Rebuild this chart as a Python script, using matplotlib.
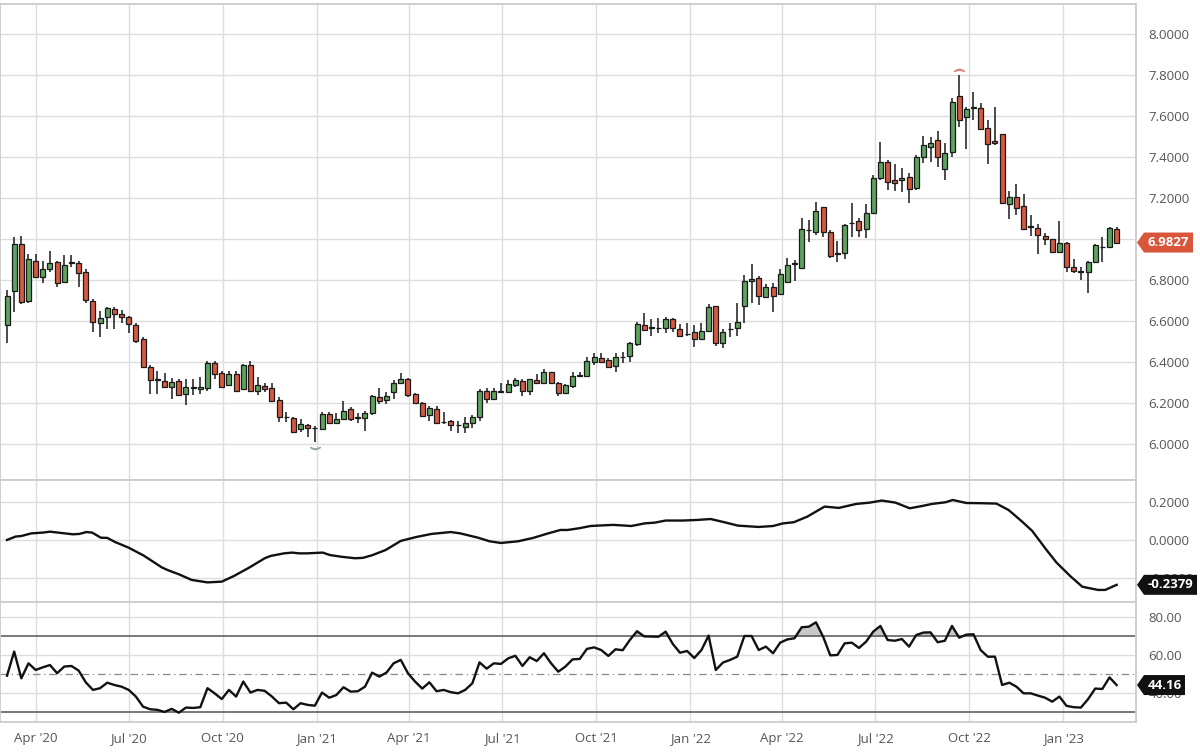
import numpy as np
import matplotlib
matplotlib.use("Agg")
import matplotlib.pyplot as plt
from matplotlib.patches import Polygon
from matplotlib.transforms import IdentityTransform
from matplotlib.ticker import FormatStrFormatter

plt.rcParams['font.family'] = ['Open Sans', 'DejaVu Sans']

# weekly candles, first week starting 2020-03-04
START = np.datetime64('2020-03-04')

opens = [6.582, 6.747, 6.976, 6.698, 6.893, 6.814, 6.856, 6.887, 6.791, 6.882,
         6.885, 6.838, 6.698, 6.593, 6.622, 6.659, 6.635, 6.619, 6.583, 6.513,
         6.379, 6.318, 6.310, 6.280, 6.310, 6.247, 6.277, 6.272, 6.273, 6.395,
         6.347, 6.290, 6.343, 6.270, 6.385, 6.260, 6.286, 6.277, 6.217, 6.135,
         6.128, 6.074, 6.095, 6.080, 6.074, 6.148, 6.103, 6.123, 6.171, 6.132,
         6.128, 6.152, 6.233, 6.217, 6.254, 6.299, 6.319, 6.246, 6.200, 6.144,
         6.171, 6.108, 6.116, 6.096, 6.087, 6.106, 6.132, 6.262, 6.220, 6.258,
         6.254, 6.290, 6.309, 6.260, 6.314, 6.298, 6.351, 6.298, 6.249, 6.286,
         6.335, 6.333, 6.403, 6.422, 6.411, 6.382, 6.424, 6.432, 6.489, 6.582,
         6.571, 6.566, 6.566, 6.609, 6.562, 6.538, 6.546, 6.512, 6.554, 6.675,
         6.492, 6.560, 6.566, 6.674, 6.796, 6.809, 6.719, 6.768, 6.732, 6.792,
         6.880, 6.860, 7.044, 7.033, 7.154, 7.036, 6.931, 6.933, 7.078, 7.088,
         7.049, 7.128, 7.297, 7.376, 7.287, 7.286, 7.300, 7.247, 7.400, 7.446,
         7.482, 7.341, 7.422, 7.696, 7.592, 7.636, 7.636, 7.539, 7.477, 7.510,
         7.170, 7.203, 7.161, 7.061, 7.052, 7.016, 6.998, 6.938, 6.982, 6.862,
         6.841, 6.838, 6.890, 6.960, 6.960, 7.049]
highs = [6.752, 7.011, 7.015, 6.927, 6.927, 6.893, 6.943, 6.894, 6.924, 6.922,
         6.894, 6.853, 6.710, 6.650, 6.670, 6.668, 6.655, 6.625, 6.593, 6.522,
         6.387, 6.359, 6.350, 6.325, 6.317, 6.320, 6.319, 6.330, 6.406, 6.406,
         6.358, 6.359, 6.356, 6.390, 6.408, 6.330, 6.298, 6.298, 6.233, 6.160,
         6.132, 6.124, 6.100, 6.090, 6.160, 6.160, 6.152, 6.213, 6.181, 6.155,
         6.165, 6.241, 6.273, 6.257, 6.314, 6.347, 6.325, 6.252, 6.208, 6.187,
         6.187, 6.160, 6.120, 6.116, 6.132, 6.144, 6.268, 6.273, 6.273, 6.301,
         6.314, 6.325, 6.317, 6.320, 6.343, 6.367, 6.354, 6.306, 6.292, 6.354,
         6.354, 6.427, 6.444, 6.447, 6.419, 6.444, 6.452, 6.500, 6.596, 6.638,
         6.609, 6.614, 6.619, 6.616, 6.586, 6.590, 6.582, 6.590, 6.684, 6.676,
         6.561, 6.590, 6.690, 6.825, 6.877, 6.820, 6.780, 6.787, 6.853, 6.906,
         6.900, 7.101, 7.092, 7.181, 7.157, 7.044, 6.992, 7.073, 7.174, 7.101,
         7.170, 7.311, 7.472, 7.384, 7.365, 7.344, 7.320, 7.409, 7.501, 7.495,
         7.527, 7.469, 7.685, 7.798, 7.644, 7.717, 7.660, 7.579, 7.644, 7.512,
         7.235, 7.268, 7.219, 7.117, 7.073, 7.031, 7.000, 7.088, 6.984, 6.901,
         6.865, 6.892, 6.976, 7.008, 7.057, 7.060]
lows = [6.494, 6.646, 6.684, 6.690, 6.810, 6.784, 6.841, 6.768, 6.790, 6.865,
        6.768, 6.687, 6.549, 6.522, 6.561, 6.561, 6.590, 6.544, 6.495, 6.372,
        6.246, 6.246, 6.273, 6.220, 6.241, 6.191, 6.241, 6.244, 6.262, 6.320,
        6.278, 6.285, 6.259, 6.268, 6.259, 6.241, 6.257, 6.208, 6.108, 6.111,
        6.057, 6.062, 6.038, 6.014, 6.071, 6.100, 6.100, 6.120, 6.114, 6.103,
        6.067, 6.143, 6.197, 6.196, 6.220, 6.297, 6.233, 6.197, 6.135, 6.116,
        6.103, 6.100, 6.067, 6.057, 6.057, 6.079, 6.116, 6.203, 6.217, 6.250,
        6.250, 6.281, 6.236, 6.241, 6.295, 6.294, 6.294, 6.238, 6.246, 6.273,
        6.327, 6.327, 6.387, 6.395, 6.371, 6.354, 6.398, 6.403, 6.481, 6.554,
        6.529, 6.541, 6.541, 6.549, 6.526, 6.526, 6.476, 6.509, 6.549, 6.479,
        6.468, 6.524, 6.528, 6.593, 6.687, 6.679, 6.716, 6.646, 6.727, 6.790,
        6.797, 6.857, 6.987, 7.019, 7.011, 6.906, 6.890, 6.901, 7.011, 7.008,
        7.003, 7.122, 7.287, 7.238, 7.235, 7.230, 7.174, 7.238, 7.368, 7.376,
        7.349, 7.287, 7.398, 7.546, 7.437, 7.579, 7.530, 7.365, 7.457, 7.174,
        7.096, 7.117, 7.047, 7.016, 6.927, 6.971, 6.935, 6.935, 6.841, 6.833,
        6.800, 6.739, 6.888, 6.890, 6.955, 6.980]
closes = [6.723, 6.976, 6.693, 6.903, 6.817, 6.854, 6.885, 6.786, 6.873, 6.886,
          6.833, 6.703, 6.598, 6.614, 6.664, 6.634, 6.619, 6.585, 6.504, 6.376,
          6.314, 6.316, 6.281, 6.303, 6.242, 6.278, 6.276, 6.281, 6.398, 6.342,
          6.281, 6.343, 6.262, 6.385, 6.262, 6.288, 6.272, 6.212, 6.132, 6.133,
          6.060, 6.098, 6.080, 6.079, 6.148, 6.103, 6.123, 6.163, 6.124, 6.131,
          6.152, 6.236, 6.213, 6.238, 6.298, 6.317, 6.241, 6.200, 6.139, 6.179,
          6.106, 6.107, 6.095, 6.094, 6.106, 6.135, 6.262, 6.220, 6.260, 6.256,
          6.293, 6.314, 6.260, 6.317, 6.298, 6.351, 6.298, 6.249, 6.290, 6.333,
          6.337, 6.408, 6.424, 6.403, 6.379, 6.427, 6.426, 6.492, 6.586, 6.557,
          6.569, 6.565, 6.611, 6.566, 6.528, 6.536, 6.512, 6.554, 6.670, 6.495,
          6.546, 6.562, 6.596, 6.796, 6.806, 6.724, 6.768, 6.723, 6.830, 6.872,
          6.882, 7.047, 7.045, 7.138, 7.036, 6.917, 6.926, 7.068, 7.080, 7.044,
          7.128, 7.297, 7.375, 7.279, 7.271, 7.298, 7.242, 7.400, 7.457, 7.466,
          7.398, 7.417, 7.665, 7.579, 7.631, 7.644, 7.535, 7.462, 7.466, 7.177,
          7.203, 7.149, 7.049, 7.059, 7.019, 6.998, 6.938, 6.982, 6.862, 6.846,
          6.840, 6.890, 6.971, 6.962, 7.052, 6.9827]

# middle study, read as (week index, value)
mid_weeks = [0.0, 1.2, 2.0, 3.4, 5.0, 6.0, 7.6, 9.2, 10.1, 11.1, 11.9, 13.1, 14.0,
             15.1, 17.0, 19.1, 21.6, 22.4, 24.0, 25.8, 28.0, 30.0, 31.7, 33.9, 36.0,
             36.8, 38.7, 39.8, 40.8, 41.9, 44.1, 45.1, 46.7, 48.6, 49.7, 51.0, 52.9,
             55.0, 57.2, 59.3, 62.0, 63.3, 65.8, 67.4, 69.0, 70.3, 71.4, 73.5, 75.6,
             77.3, 78.3, 79.9, 81.5, 83.0, 84.7, 87.2, 89.1, 90.5, 92.0, 94.4, 96.3,
             98.3, 100.2, 102.1, 105.0, 107.0, 108.4, 109.9, 111.8, 114.2, 116.2,
             118.6, 120.5, 122.2, 124.1, 126.1, 127.8, 129.2, 131.1, 132.1, 134.0,
             136.0, 138.2, 139.9, 141.8, 143.2, 145.2, 146.6, 148.5, 150.2, 152.4,
             153.4, 155.0]
mid_vals = [0.000, 0.018, 0.021, 0.035, 0.039, 0.044, 0.037, 0.030, 0.032, 0.042,
            0.039, 0.012, 0.011, -0.011, -0.041, -0.083, -0.145, -0.159, -0.182,
            -0.212, -0.225, -0.221, -0.191, -0.145, -0.097, -0.085, -0.071, -0.067,
            -0.071, -0.071, -0.067, -0.080, -0.089, -0.097, -0.095, -0.081, -0.053,
            -0.005, 0.016, 0.032, 0.042, 0.035, 0.012, -0.007, -0.016, -0.011,
            -0.007, 0.011, 0.035, 0.053, 0.053, 0.062, 0.074, 0.077, 0.080, 0.074,
            0.088, 0.092, 0.103, 0.103, 0.106, 0.111, 0.094, 0.076, 0.069, 0.074,
            0.088, 0.094, 0.124, 0.177, 0.170, 0.191, 0.198, 0.209, 0.198, 0.168,
            0.180, 0.191, 0.200, 0.212, 0.196, 0.195, 0.193, 0.159, 0.097, 0.048,
            -0.053, -0.120, -0.191, -0.248, -0.265, -0.265, -0.2379]

# RSI, one value per week
rsi = [49.1, 61.8, 47.7, 55.6, 52.1, 53.5, 54.7, 50.4, 53.9, 54.2,
       51.8, 45.6, 41.6, 42.5, 45.4, 44.2, 43.3, 41.6, 38.1, 32.8,
       31.4, 31.1, 30.0, 31.6, 29.6, 32.3, 32.1, 32.5, 42.5, 39.8,
       36.8, 41.6, 38.1, 46.0, 40.2, 41.6, 41.1, 38.1, 34.6, 34.9,
       31.4, 34.6, 33.7, 33.3, 40.2, 37.5, 38.9, 43.0, 40.7, 40.9,
       43.3, 50.7, 48.6, 50.7, 55.6, 57.4, 50.4, 46.0, 42.3, 45.6,
       40.9, 41.6, 40.4, 39.8, 41.6, 45.1, 56.1, 52.8, 55.6, 55.3,
       58.2, 59.6, 54.2, 58.8, 56.8, 60.9, 55.6, 51.2, 53.9, 57.7,
       57.9, 63.2, 64.0, 62.6, 59.5, 63.0, 62.5, 67.9, 72.5, 69.8,
       69.7, 69.6, 72.3, 65.8, 61.2, 62.1, 58.4, 62.6, 70.2, 52.1,
       56.0, 57.4, 59.1, 70.0, 70.0, 62.6, 64.4, 60.9, 66.5, 68.2,
       68.8, 74.6, 74.9, 77.2, 69.6, 59.8, 60.0, 66.1, 66.5, 63.7,
       67.0, 72.3, 75.3, 67.9, 67.5, 68.4, 64.4, 70.5, 71.8, 71.9,
       66.7, 67.5, 75.3, 69.1, 70.7, 70.9, 62.6, 59.1, 59.1, 44.2,
       45.4, 43.3, 39.8, 39.8, 38.6, 37.5, 35.4, 38.1, 33.2, 32.5,
       32.3, 36.7, 42.3, 42.1, 48.2, 44.16]

tick_dates = ['2020-04-01', '2020-07-01', '2020-10-01', '2021-01-01', '2021-04-01',
              '2021-07-01', '2021-10-01', '2022-01-01', '2022-04-01', '2022-07-01',
              '2022-10-01', '2023-01-01']
tick_labels = ["Apr '20", "Jul '20", "Oct '20", "Jan '21", "Apr '21", "Jul '21",
               "Oct '21", "Jan '22", "Apr '22", "Jul '22", "Oct '22", "Jan '23"]

GREEN = '#5ea35e'
RED = '#d65a3f'
GRID = '#dddddd'
SPINE = '#cccccc'
LABEL = '#555555'

o = np.array(opens); h = np.array(highs); l = np.array(lows); c = np.array(closes)
weeks = np.arange(len(o))
tick_pos = (np.array(tick_dates, dtype='datetime64[D]') - START).astype(float) / 7.0

fig = plt.figure(figsize=(12, 7.52), dpi=100)
W = 1136 / 1200
ax1 = fig.add_axes([0, 272 / 752, W, 476 / 752])
ax2 = fig.add_axes([0, 150 / 752, W, 122 / 752], sharex=ax1)
ax3 = fig.add_axes([0, 30 / 752, W, 120 / 752], sharex=ax1)

for ax in (ax1, ax2, ax3):
    ax.set_facecolor('white')
    for s in ax.spines.values():
        s.set_color(SPINE)
        s.set_linewidth(1.3)
    ax.yaxis.tick_right()
    ax.tick_params(axis='both', length=0, labelcolor=LABEL, labelsize=9.5)
    ax.tick_params(axis='y', pad=9)
    ax.grid(True, color=GRID, lw=1)
    ax.set_axisbelow(True)

# candles
up = c >= o
cols = np.where(up, GREEN, RED)
ax1.vlines(weeks, l, h, color='#1a1a1a', lw=1.1, zorder=2)
ax1.bar(weeks, np.maximum(np.abs(c - o), 0.002), bottom=np.minimum(o, c), width=0.7,
        color=cols, edgecolor='#1a1a1a', linewidth=0.9, zorder=3)
hi = int(np.argmax(h)); lo = int(np.argmin(l))
ax1.plot(hi, h[hi] + 0.022, marker=r'$\frown$', color='#e08070', markersize=7, zorder=4)
ax1.plot(lo, l[lo] - 0.03, marker=r'$\smile$', color='#99aaa0', markersize=7, zorder=4)
ax1.set_xlim(-0.98, 157.7)
ax1.set_ylim(5.827, 8.1436)
ax1.set_yticks(np.arange(6.0, 8.01, 0.2))
ax1.yaxis.set_major_formatter(FormatStrFormatter('%.4f'))

# middle study
ax2.plot(mid_weeks, mid_vals, color='#111111', lw=1.7, zorder=3)
ax2.set_ylim(-0.329, 0.318)
ax2.set_yticks([-0.2, 0.0, 0.2])
ax2.yaxis.set_major_formatter(FormatStrFormatter('%.4f'))

# RSI
r = np.array(rsi)
ax3.fill_between(weeks, r, 70, where=r > 70, interpolate=True, color='#c8c8c8', zorder=2)
ax3.plot(weeks, r, color='#111111', lw=1.7, zorder=3)
ax3.axhline(70, color='#555555', lw=1.1, zorder=2)
ax3.axhline(30, color='#555555', lw=1.1, zorder=2)
ax3.axhline(50, color='#888888', lw=0.9, ls=(0, (6, 3, 1, 3)), zorder=2)
ax3.set_ylim(24.7, 87.9)
ax3.set_yticks([40, 60, 80])
ax3.yaxis.set_major_formatter(FormatStrFormatter('%.2f'))

ax3.set_xticks(tick_pos)
ax3.set_xticklabels(tick_labels)
ax3.tick_params(axis='x', pad=7)
ax1.tick_params(labelbottom=False)
ax2.tick_params(labelbottom=False)


def value_tag(ax, value, text, face, width):
    x0 = ax.transAxes.transform((1, 0))[0]
    yc = ax.transData.transform((0, value))[1]
    hh = 10
    pts = [(x0 + 1, yc), (x0 + 8, yc + hh), (x0 + width, yc + hh),
           (x0 + width, yc - hh), (x0 + 8, yc - hh)]
    fig.add_artist(Polygon(pts, closed=True, transform=IdentityTransform(),
                           facecolor=face, edgecolor='none', zorder=5))
    fig.text(x0 + 8 + (width - 8) / 2, yc, text, transform=IdentityTransform(),
             color='white', fontsize=9.5, fontweight='bold', ha='center',
             va='center', zorder=6)


value_tag(ax1, c[-1], '%.4f' % c[-1], '#d9553b', 57)
value_tag(ax2, mid_vals[-1], '%.4f' % mid_vals[-1], '#111111', 61)
value_tag(ax3, r[-1], '%.2f' % r[-1], '#111111', 49)

fig.savefig('out.png', dpi=100, facecolor='white')
